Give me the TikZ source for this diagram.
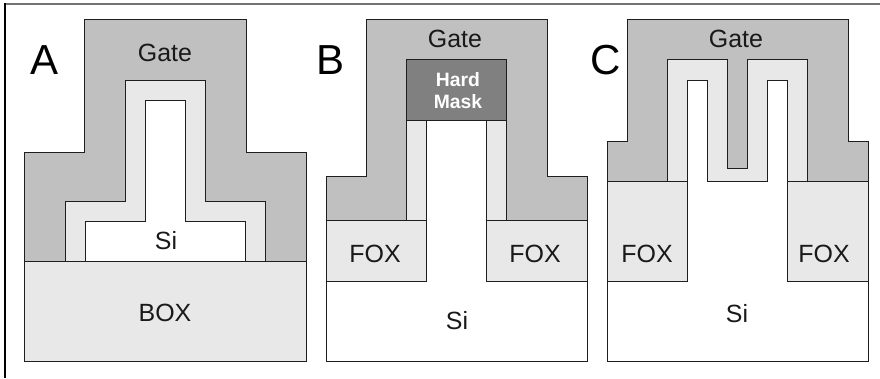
\documentclass[tikz,border=0pt]{standalone}
\usepackage{fontspec}
\setmainfont{Liberation Sans}
\usepackage{xcolor}
\definecolor{gatefill}{RGB}{192,192,192}
\definecolor{oxidefill}{RGB}{232,232,232}
\definecolor{maskfill}{RGB}{128,128,128}
\definecolor{edgeline}{RGB}{30,30,30}
\tikzset{
  layer/.style={draw=edgeline,line width=.75pt,line join=miter},
  lab/.style={font=\fontsize{18.7}{20}\selectfont,text=black!90},
  panel/.style={font=\fontsize{31.5}{33}\selectfont,text=black},
  masklab/.style={font=\fontsize{14.5}{16.5}\selectfont\bfseries,text=white,align=center}
}
\begin{document}
\begin{tikzpicture}[x=.75pt,y=-.75pt]
\useasboundingbox (0,0) rectangle (880,378);
\draw[line width=1.25pt,color=black!55] (4,3.8)--(880,3.8);
\draw[line width=1.25pt,color=black] (4.8,3.2)--(4.8,378);
% A
\fill[layer,fill=gatefill] (84,20)--(246,20)--(246,152)--(306,152)--(306,261)--(24,261)--(24,152)--(84,152)--cycle;
\fill[layer,fill=oxidefill] (65,261)--(65,201)--(125,201)--(125,80)--(205,80)--(205,201)--(265,201)--(265,261)--cycle;
\fill[layer,fill=white] (85,261)--(85,221)--(145,221)--(145,100)--(185,100)--(185,221)--(245,221)--(245,261)--cycle;
\fill[layer,fill=oxidefill] (24,261) rectangle (306,361);
\node[panel] (panelA) at (45,60) {A};
\node[lab] (gateA) at (165,53) {Gate};
\node[lab] (siA) at (166,241) {Si};
\node[lab] (boxA) at (165,313) {BOX};
% B
\fill[layer,fill=gatefill] (366,20)--(547,20)--(547,176)--(587,176)--(587,220)--(326,220)--(326,176)--(366,176)--cycle;
\fill[layer,fill=white] (326,281)--(426,281)--(426,120)--(486,120)--(486,281)--(587,281)--(587,361)--(326,361)--cycle;
\foreach \xa/\xb in {406/426,486/506} {
  \fill[layer,fill=oxidefill] (\xa,120) rectangle (\xb,220);}
\foreach \xa/\xb in {326/426,486/587} {
  \fill[layer,fill=oxidefill] (\xa,220) rectangle (\xb,281);}
\fill[layer,fill=maskfill] (406,60) rectangle (506,120);
\node[panel] (panelB) at (331,60) {B};
\node[lab] (gateB) at (455,39) {Gate};
\node[masklab] (maskB) at (458,91) {Hard\\Mask};
\node[lab] (foxBl) at (375,254) {FOX};
\node[lab] (foxBr) at (535,254) {FOX};
\node[lab] (siB) at (457,321) {Si};
% C
\fill[layer,fill=gatefill] (627,20)--(848,20)--(848,141)--(868,141)--(868,181)--(607,181)--(607,141)--(627,141)--cycle;
\fill[layer,fill=oxidefill] (667,181)--(667,60)--(727,60)--(727,168)--(747,168)--(747,60)--(807,60)--(807,181)--cycle;
\fill[layer,fill=white] (607,281)--(687,281)--(687,80)--(707,80)--(707,181)--(767,181)--(767,80)--(787,80)--(787,281)--(868,281)--(868,361)--(607,361)--cycle;
\foreach \xa/\xb in {607/687,787/868} {
  \fill[layer,fill=oxidefill] (\xa,181) rectangle (\xb,281);}
\node[panel] (panelC) at (606,60) {C};
\node[lab] (gateC) at (736,39) {Gate};
\node[lab] (foxCl) at (647,254) {FOX};
\node[lab] (foxCr) at (824,254) {FOX};
\node[lab] (siC) at (737,314) {Si};
\end{tikzpicture}
\end{document}
